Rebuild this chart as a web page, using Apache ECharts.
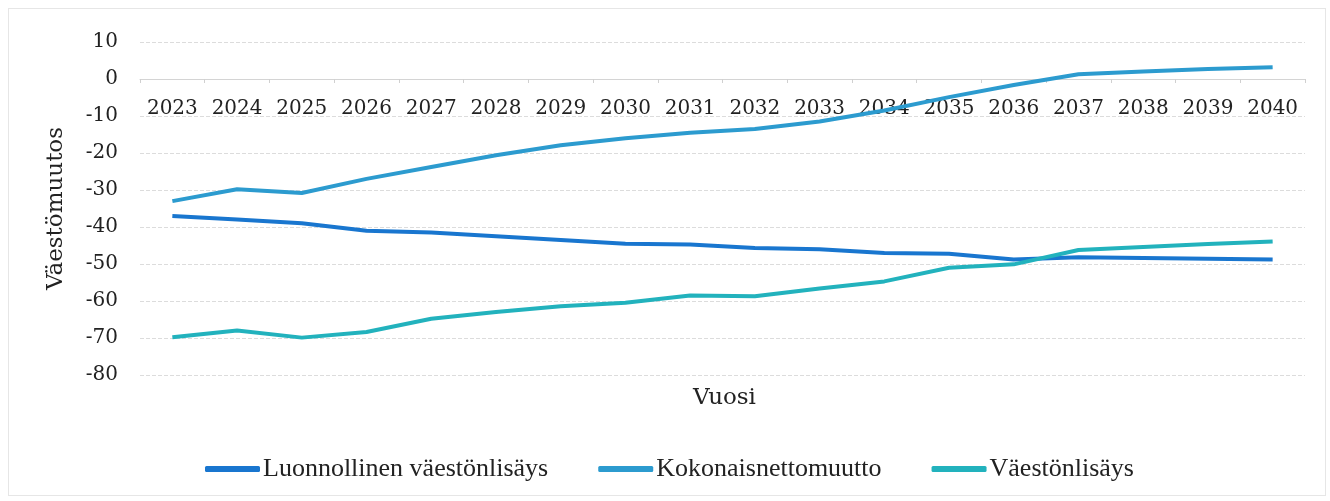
<!DOCTYPE html>
<html>
<head>
<meta charset="UTF-8">
<title>Väestömuutos</title>
<script src="https://cdn.jsdelivr.net/npm/echarts@6/dist/echarts.min.js"></script>
<style>
  html, body { margin: 0; padding: 0; background: #fff; }
  #frame { position: absolute; left: 8px; top: 8px; width: 1318px; height: 488px; border: 1px solid #e6e6e6; box-sizing: border-box; }
  #main { width: 1330px; height: 501px; }
</style>
</head>
<body>
<div id="frame"></div>
<div id="main"></div>
<script>
var years = ['2023','2024','2025','2026','2027','2028','2029','2030','2031','2032','2033','2034','2035','2036','2037','2038','2039','2040'];
var luonnollinen = [-37, -38, -39, -41, -41.5, -42.5, -43.5, -44.5, -44.7, -45.7, -46, -47, -47.2, -48.8, -48.2, -48.4, -48.6, -48.8];
var nettomuutto = [-33, -29.8, -30.8, -27, -23.8, -20.6, -17.9, -16, -14.5, -13.5, -11.5, -8.5, -4.9, -1.6, 1.3, 2, 2.7, 3.2];
var vaestonlisays = [-69.8, -68, -69.9, -68.4, -64.8, -63, -61.4, -60.5, -58.5, -58.7, -56.6, -54.7, -51, -50.1, -46.2, -45.4, -44.6, -43.9];

var chart = echarts.init(document.getElementById('main'));
var serif = 'DejaVu Serif';
var option = {
  animation: false,
  color: ['#1976cf', '#2c9bcf', '#22b2bd'],
  // x-akselin nimi omana tekstinään
  title: {
    text: 'Vuosi',
    left: 688,
    top: 382,
    textStyle: { fontFamily: serif, fontSize: 23, fontWeight: 'normal', color: '#222' }
  },
  grid: { left: 140, right: 25, top: 42, bottom: 126 },
  legend: {
    top: 451,
    left: 200,
    itemGap: 50,
    itemWidth: 55,
    itemHeight: 6,
    icon: 'roundRect',
    textStyle: { fontFamily: 'Liberation Serif', fontSize: 26, color: '#222', padding: [0, 0, 0, -2] },
    data: ['Luonnollinen väestönlisäys', 'Kokonaisnettomuutto', 'Väestönlisäys']
  },
  xAxis: {
    type: 'category',
    data: years,
    position: 'bottom',
    offset: -296,
    axisLine: { onZero: false, lineStyle: { color: '#d4d4d4' } },
    axisTick: { show: true, length: 4, lineStyle: { color: '#d0d0d0' } },
    axisLabel: { fontFamily: serif, fontSize: 20, color: '#222', margin: 20, interval: 0 }
  },
  yAxis: {
    type: 'value',
    min: -80,
    max: 10,
    interval: 10,
    name: 'Väestömuutos',
    nameLocation: 'middle',
    nameGap: 72,
    nameTextStyle: { fontFamily: serif, fontSize: 23, color: '#222' },
    axisLine: { show: false },
    axisTick: { show: false },
    axisLabel: { fontFamily: serif, fontSize: 20, color: '#222', margin: 22 },
    splitLine: { lineStyle: { color: '#dcdcdc', type: 'dashed' } }
  },
  series: [
    { name: 'Luonnollinen väestönlisäys', type: 'line', data: luonnollinen, showSymbol: false, lineStyle: { width: 4 } },
    { name: 'Kokonaisnettomuutto', type: 'line', data: nettomuutto, showSymbol: false, lineStyle: { width: 4 } },
    { name: 'Väestönlisäys', type: 'line', data: vaestonlisays, showSymbol: false, lineStyle: { width: 4 } }
  ]
};
chart.setOption(option);
</script>
</body>
</html>
